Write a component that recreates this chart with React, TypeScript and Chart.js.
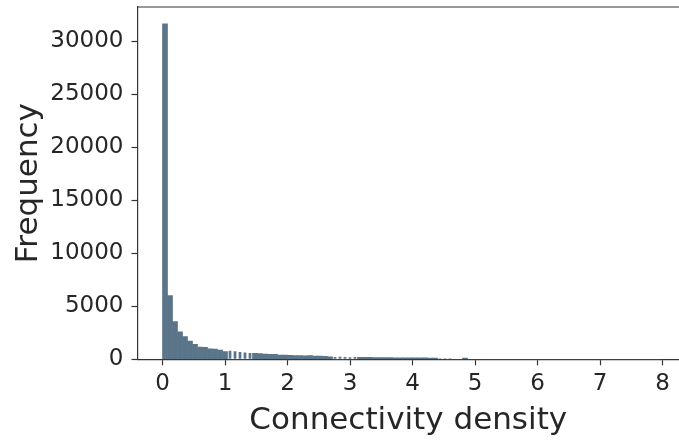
import React, { useEffect, useRef } from "react";
import { Chart, registerables } from "chart.js";

Chart.register(...registerables);

// Histogram of connectivity density: 100 bins of width 0.08 spanning 0 – 8
const binStart = 0;
const binWidth = 0.08;
const counts: number[] = [
  31650, 6000, 3550, 2600, 2150, 1730, 1420, 1150, 1130, 980,
  960, 880, 720, 800, 760, 700, 640, 600, 560, 540,
  500, 460, 470, 400, 390, 380, 360, 350, 330, 340,
  300, 310, 270, 240, 220, 230, 210, 200, 210, 190,
  180, 175, 170, 165, 160, 160, 150, 150, 145, 140,
  135, 130, 130, 125, 120, 110, 100, 95, 0, 0,
  120, 0, 0, 0, 0, 0, 0, 0, 0, 0,
  0, 0, 0, 0, 0, 0, 0, 0, 0, 0,
  0, 0, 0, 0, 0, 0, 0, 0, 0, 0,
  0, 0, 0, 0, 0, 0, 0, 0, 0, 0,
];
// bins whose bars render narrow, leaving thin white seams between them
const narrowBins: number[] = [13, 14, 15, 16, 17, 34, 35, 36, 37, 38, 55, 56, 57];

const xTicks: number[] = [0, 1, 2, 3, 4, 5, 6, 7, 8];
const yTicks: number[] = [0, 5000, 10000, 15000, 20000, 25000, 30000];

const xLabel = "Connectivity density";
const yLabel = "Frequency";

const barColor = "#5a7489";
const inkColor = "#262626";
const spineColor = "#333333";
const fontFamily = "'DejaVu Sans', sans-serif";

const topSpine = {
  id: "topSpine",
  afterDraw(chart: Chart) {
    const { ctx, chartArea } = chart;
    ctx.save();
    ctx.strokeStyle = spineColor;
    ctx.lineWidth = 1.2;
    ctx.beginPath();
    ctx.moveTo(chartArea.left, chartArea.top);
    ctx.lineTo(chartArea.right, chartArea.top);
    ctx.stroke();
    ctx.restore();
  },
};

export default function App() {
  const canvasRef = useRef<HTMLCanvasElement | null>(null);

  useEffect(() => {
    const canvas = canvasRef.current;
    if (!canvas) return;

    const wide = counts.map((c, i) => ({
      x: binStart + binWidth * (i + 0.5),
      y: narrowBins.includes(i) ? 0 : c,
    }));
    const narrow = counts.map((c, i) => ({
      x: binStart + binWidth * (i + 0.5),
      y: narrowBins.includes(i) ? c : 0,
    }));

    const yMax = Math.max(...counts) * 1.05;
    const xMin = -0.4;
    const xMax = 8.264;

    const chart = new Chart(canvas, {
      type: "bar",
      data: {
        datasets: [
          {
            data: wide,
            backgroundColor: barColor,
            borderWidth: 0,
            barPercentage: 1,
            categoryPercentage: 1,
            grouped: false,
          },
          {
            data: narrow,
            backgroundColor: barColor,
            borderWidth: 0,
            barPercentage: 0.55,
            categoryPercentage: 1,
            grouped: false,
          },
        ],
      },
      options: {
        animation: false,
        responsive: false,
        layout: { padding: { top: 7, right: 0, left: 0, bottom: 0 } },
        plugins: {
          legend: { display: false },
          tooltip: { enabled: false },
        },
        scales: {
          x: {
            type: "linear",
            min: xMin,
            max: xMax,
            offset: false,
            afterFit: (scale: any) => {
              scale.height = 81.7;
              scale.paddingLeft = 0;
              scale.paddingRight = 0;
            },
            afterBuildTicks: (scale: any) => {
              scale.ticks = xTicks.map((v) => ({ value: v }));
            },
            grid: {
              offset: false,
              drawOnChartArea: false,
              drawTicks: true,
              tickLength: 6,
              tickColor: spineColor,
              tickWidth: 1.2,
            },
            border: { display: true, color: spineColor, width: 1.2 },
            ticks: {
              color: inkColor,
              font: { family: fontFamily, size: 23 },
              padding: 5,
              maxRotation: 0,
              autoSkip: false,
              callback: (v: any) => String(v),
            },
            title: {
              display: true,
              text: xLabel,
              color: inkColor,
              font: { family: fontFamily, size: 31 },
              padding: { top: 0, bottom: 1 },
            },
          },
          y: {
            type: "linear",
            min: 0,
            max: yMax,
            afterFit: (scale: any) => {
              scale.width = 137.5;
              scale.paddingTop = 0;
              scale.paddingBottom = 0;
            },
            afterBuildTicks: (scale: any) => {
              scale.ticks = yTicks.map((v) => ({ value: v }));
            },
            grid: {
              drawOnChartArea: false,
              drawTicks: true,
              tickLength: 6,
              tickColor: spineColor,
              tickWidth: 1.2,
            },
            border: { display: true, color: spineColor, width: 1.2 },
            ticks: {
              color: inkColor,
              font: { family: fontFamily, size: 23 },
              padding: 8,
              autoSkip: false,
              callback: (v: any) => String(v),
            },
            title: {
              display: true,
              text: yLabel,
              color: inkColor,
              font: { family: fontFamily, size: 31 },
              padding: { top: 10, bottom: 0 },
            },
          },
        },
      },
      plugins: [topSpine],
    });

    return () => chart.destroy();
  }, []);

  return (
    <div
      style={{
        position: "fixed",
        left: 0,
        top: 0,
        width: 679,
        height: 441,
        background: "#ffffff",
      }}
    >
      <canvas ref={canvasRef} width={679} height={441} style={{ display: "block" }} />
    </div>
  );
}
